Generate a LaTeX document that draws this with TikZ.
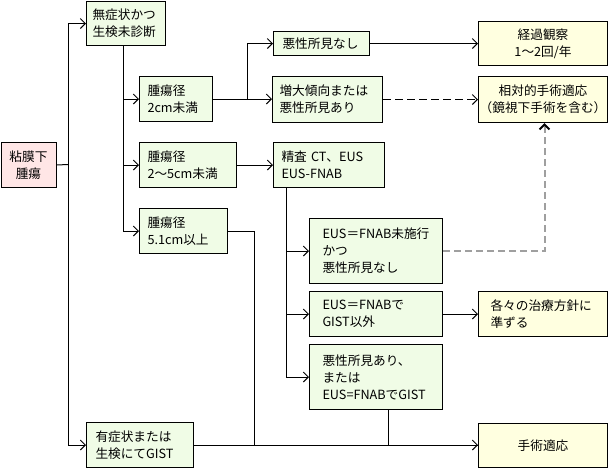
\documentclass[tikz,border=0pt]{standalone}
\usepackage{fontspec}
\setmainfont{Noto Sans CJK JP}
\usepackage{xcolor}
\usepackage{tikz}
\usetikzlibrary{arrows.meta}
\usetikzlibrary{calc}

\definecolor{boxpink}{HTML}{FFE6E6}
\definecolor{boxgreen}{HTML}{F0FCE6}
\definecolor{boxyellow}{HTML}{FFFFE0}
\tikzset{
    box/.style={draw, line width=0.75pt, anchor=north west, inner xsep=0pt, inner ysep=0pt,
        font=\fontsize{9.5}{12.75}\selectfont},
    gbox/.style={box, fill=boxgreen, align=left},
    ybox/.style={box, fill=boxyellow, align=center},
    pbox/.style={box, fill=boxpink, align=center},
    arr/.style={-{Straight Barb[length=3.75pt, width=7.5pt, color=black]}},
    line/.style={line width=0.75pt},
    dashline/.style={line, dash pattern=on 6pt off 3pt},
    greyline/.style={line width=1.5pt, gray!75, dash pattern=on 5.25pt off 3pt},
}

\begin{document}
\begin{tikzpicture}[x=0.75pt, y=-0.75pt]
        \useasboundingbox (0,0) rectangle (608,469);
        \node[pbox, minimum width=41.25pt, minimum height=33.75pt] (muc) at (0.5,142) {粘膜下\\腫瘍};
        \node[gbox, minimum width=59.25pt, minimum height=33pt, text width=50.25pt] (asym) at (86,1) {無症状かつ\\生検未診断};
        \node[gbox, minimum width=80.25pt, minimum height=33.75pt, text width=66.75pt] (sym) at (86,422) {有症状または\\生検にてGIST};
        \node[gbox, minimum width=54.75pt, minimum height=33.75pt, text width=42.75pt] (small) at (139,76) {腫瘍径\\2cm未満};
        \node[gbox, minimum width=72.75pt, minimum height=33.75pt, text width=60.75pt] (mid) at (139,142) {腫瘍径\\2～5cm未満};
        \node[gbox, minimum width=66pt, minimum height=33.75pt, text width=54pt] (large) at (139,208) {腫瘍径\\5.1cm以上};
        \node[gbox, minimum width=72pt, minimum height=18pt, text width=58.5pt] (nomal) at (273,31) {悪性所見なし};
        \node[gbox, minimum width=82.5pt, minimum height=34.5pt, text width=72pt] (grow) at (272,76) {増大傾向または\\悪性所見あり};
        \node[gbox, minimum width=83.25pt, minimum height=33.75pt, text width=71.25pt] (exam) at (273,142) {精査 CT、EUS\\EUS-FNAB};
        \node[gbox, minimum width=99.75pt, minimum height=48.75pt, text width=80.25pt] (nofnab) at (309,218) {EUS＝FNAB未施行\\かつ\\悪性所見なし};
        \node[gbox, minimum width=99.75pt, minimum height=33.75pt, text width=80.25pt] (notgist) at (309,291) {EUS＝FNABで\\GIST以外};
        \node[gbox, minimum width=99.75pt, minimum height=48.75pt, text width=80.25pt] (gist) at (309,344) {悪性所見あり、\\または\\EUS=FNABでGIST};
        \node[ybox, minimum width=96.75pt, minimum height=33pt] (follow) at (478,21) {経過観察\\1～2回/年};
        \node[ybox, minimum width=96.75pt, minimum height=34.5pt] (rel) at (478,76) {相対的手術適応\\\kern-0.3em（鏡視下手術を含む）\kern-0.3em};
        \node[ybox, minimum width=96.75pt, minimum height=33.75pt, text width=78.75pt, align=left] (each) at (478,291) {各々の治療方針に\\準ずる};
        \node[ybox, minimum width=96.75pt, minimum height=33pt] (surg) at (478,423) {手術適応};

        \coordinate (trunk) at (68,164.5);
        \coordinate (split) at (247,98.5);
        \draw[line] (muc.east) -- (trunk);
        \draw[line, arr] (trunk) |- (asym.west);
        \draw[line, arr] (trunk) |- (sym.west);
        \draw[line, arr] ([xshift=-1.875pt]asym.south) |- (small.west);
        \draw[line, arr] ([xshift=-1.875pt]asym.south) |- (mid.west);
        \draw[line, arr] ([xshift=-1.875pt]asym.south) |- (large.west);
        \draw[line, arr] (small.east) -- (small.east -| grow.west);
        \draw[line, arr] (split) |- (nomal.west);
        \draw[line, arr] (nomal.east) -- (follow.west);
        \draw[dashline, arr] (grow.east) -- (rel.west);
        \draw[line, arr] (mid.east) -- (exam.west);
        \draw[line, arr] ([xshift=9.75pt]exam.south west) |- (nofnab.west);
        \draw[line, arr] ([xshift=9.75pt]exam.south west) |- (notgist.west);
        \draw[line, arr] ([xshift=9.75pt]exam.south west) |- (gist.west);
        \draw[greyline, arr] (nofnab.east) -| ([xshift=1.125pt]rel.south);
        \draw[line, arr] (notgist.east) -- (each.west);
        \draw[line] ([xshift=9.375pt]gist.south) |- (surg.west);
        \draw[line] (large.east) -| ([xshift=19.5pt]large.east |- surg.west);
        \draw[line, arr] (sym.east) -- (sym.east -| surg.west);
\end{tikzpicture}
\end{document}
